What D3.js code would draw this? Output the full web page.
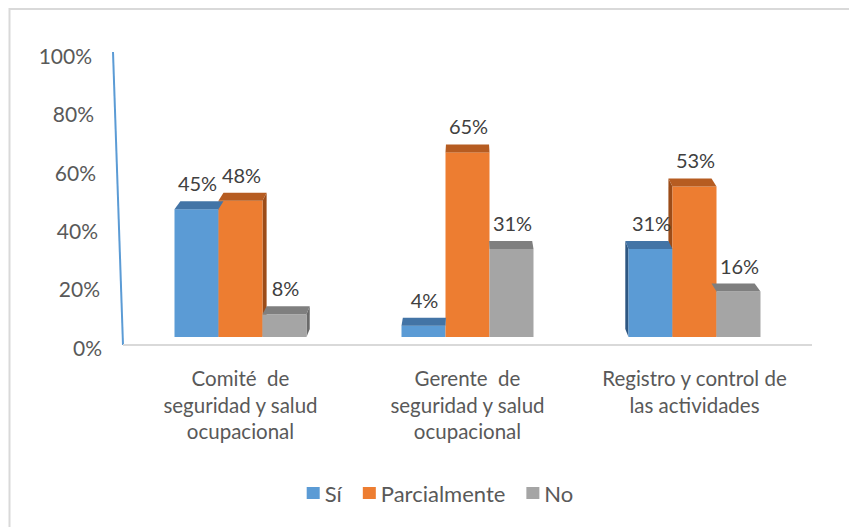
<!DOCTYPE html>
<html>
<head>
<meta charset="utf-8">
<script src="https://cdn.jsdelivr.net/npm/d3@7"></script>
<style>
  html, body { margin: 0; padding: 0; background: #fff; }
  svg { display: block; font-family: Lato, "Open Sans", sans-serif; }
  text { white-space: pre; }
</style>
</head>
<body>
<svg id="chart" width="849" height="527"></svg>
<script>
// ---- data ----
const categories = ["Comité  de|seguridad y salud|ocupacional",
                    "Gerente  de|seguridad y salud|ocupacional",
                    "Registro y control de|las actividades"];
const seriesNames = ["Sí", "Parcialmente", "No"];
const siValues = [0.45, 0.04, 0.31];
const parcialValues = [0.48, 0.65, 0.53];
const noValues = [0.08, 0.31, 0.16];
const yTicks = [0, 0.2, 0.4, 0.6, 0.8, 1.0];
const yTickLabels = ["0%", "20%", "40%", "60%", "80%", "100%"];

const seriesValues = [siValues, parcialValues, noValues];
const frontColors = ["#5B9BD5", "#ED7D31", "#A5A5A5"];
const topColors = ["#4374A6", "#B65C21", "#7F7F7F"];
const sideColors = ["#2E5782", "#9C4C18", "#6A6A6A"];

const svg = d3.select("#chart");
svg.append("rect").attr("width", 849).attr("height", 527).attr("fill", "#fff");
// outer border (chart area frame)
svg.append("rect").attr("x", 9.5).attr("y", 9).attr("width", 900).attr("height", 600)
  .attr("fill", "none").attr("stroke", "#d9d9d9").attr("stroke-width", 2);

// scales
const yLab = d3.scaleLinear().domain([0, 1]).range([347, 55.5]);
const xLabRight = d3.scaleLinear().domain([0, 1]).range([102, 92]);
const yBar = d3.scaleLinear().domain([0, 1]).range([337, 53]);
const x0 = d3.scaleBand().domain(d3.range(categories.length)).range([127, 808]).padding(0);
const x1 = d3.scaleBand().domain(d3.range(seriesNames.length)).range([0, 132]).padding(0);
const depthY = 8, vpX = 468, persp = 0.02;

// y labels
svg.append("g").selectAll("text").data(yTicks).join("text")
  .attr("x", d => xLabRight(d)).attr("y", d => yLab(d))
  .attr("text-anchor", "end").attr("dominant-baseline", "central")
  .attr("font-size", 21).attr("fill", "#595959")
  .text((d, i) => yTickLabels[i]);

// axis line (blue, slanted wall edge)
svg.append("line")
  .attr("x1", 123).attr("y1", 345).attr("x2", 113).attr("y2", 52)
  .attr("stroke", "#5B9BD5").attr("stroke-width", 2);
// floor baseline
svg.append("line")
  .attr("x1", 123).attr("y1", 345).attr("x2", 812).attr("y2", 345)
  .attr("stroke", "#d9d9d9").attr("stroke-width", 2);

// bars data
const bars = [];
categories.forEach((c, ci) => {
  seriesValues.forEach((vals, si) => {
    const xa = x0(ci) + (x0.bandwidth() / 2 - 66) + x1(si);
    const xb = xa + x1.bandwidth();
    bars.push({ci, si, v: vals[ci], xa, xb});
  });
});
const base = yBar(0);
const g = svg.append("g");
// side faces
bars.forEach(b => {
  const y = yBar(b.v);
  const dxa = (vpX - b.xa) * persp, dxb = (vpX - b.xb) * persp;
  if (dxb > 0.5) {
    g.append("polygon").attr("points",
      [[b.xb, y], [b.xb + dxb, y - depthY], [b.xb + dxb, base - depthY], [b.xb, base]].join(" "))
      .attr("fill", sideColors[b.si]);
  }
  if (dxa < -0.5) {
    g.append("polygon").attr("points",
      [[b.xa, y], [b.xa + dxa, y - depthY], [b.xa + dxa, base - depthY], [b.xa, base]].join(" "))
      .attr("fill", sideColors[b.si]);
  }
});
// front faces
g.selectAll("rect.front").data(bars).join("rect").attr("class", "front")
  .attr("x", d => d.xa).attr("y", d => yBar(d.v))
  .attr("width", d => d.xb - d.xa).attr("height", d => base - yBar(d.v))
  .attr("fill", d => frontColors[d.si]);
// top faces
g.selectAll("polygon.top").data(bars).join("polygon").attr("class", "top")
  .attr("points", d => {
    const y = yBar(d.v);
    const dxa = (vpX - d.xa) * persp, dxb = (vpX - d.xb) * persp;
    return [[d.xa, y], [d.xb, y], [d.xb + dxb, y - depthY], [d.xa + dxa, y - depthY]].join(" ");
  })
  .attr("fill", d => topColors[d.si]);

// value labels
svg.append("g").selectAll("text").data(bars).join("text")
  .attr("x", d => (d.xa + d.xb) / 2 + 1).attr("y", d => yBar(d.v) - 18)
  .attr("text-anchor", "middle").attr("font-size", 20).attr("fill", "#404040")
  .text(d => Math.round(d.v * 100) + "%");

// category labels
const xl = svg.append("g");
categories.forEach((c, ci) => {
  const lines = c.split("|");
  const cx = x0(ci) + x0.bandwidth() / 2;
  lines.forEach((ln, li) => {
    xl.append("text").attr("x", cx).attr("y", 386 + li * 26.5)
      .attr("text-anchor", "middle").attr("font-size", 20.5).attr("fill", "#595959")
      .text(ln);
  });
});

// legend
const lg = svg.append("g");
let cursor = 0;
const items = [];
seriesNames.forEach((n, i) => {
  const it = lg.append("g");
  it.append("rect").attr("x", 0).attr("y", -6).attr("width", 13).attr("height", 12).attr("fill", frontColors[i]);
  const t = it.append("text").attr("x", 18).attr("y", 0).attr("dominant-baseline", "central")
    .attr("font-size", 22).attr("fill", "#595959").text(n);
  const w = 18 + t.node().getComputedTextLength();
  items.push({it, x: cursor});
  cursor += w + 21;
});
const total = cursor - 21;
const startX = 440 - total / 2;
items.forEach(o => o.it.attr("transform", `translate(${startX + o.x},493)`));
</script>
</body>
</html>
